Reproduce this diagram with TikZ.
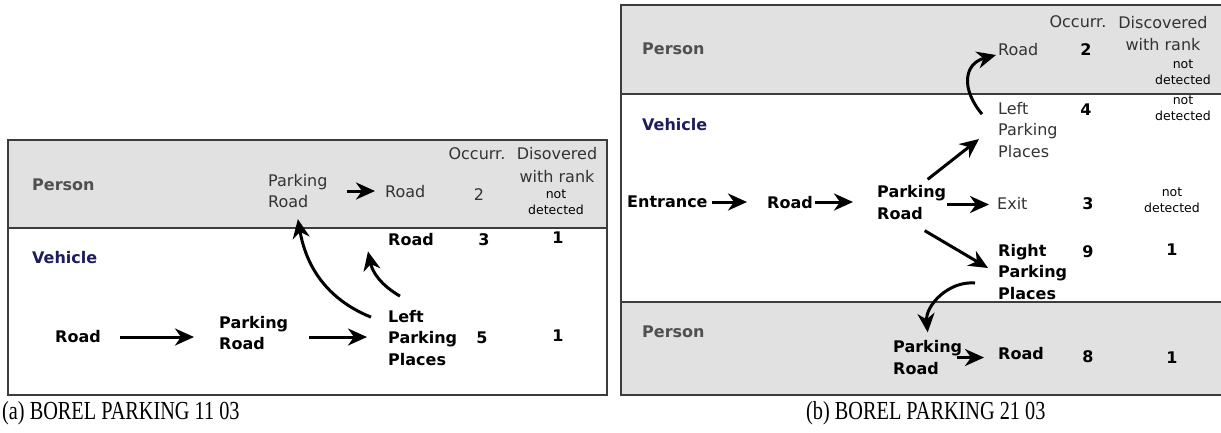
\documentclass[tikz,border=0pt]{standalone}
\usepackage{graphicx}
\usepackage{fontspec}
\setmainfont{DejaVu Sans}
\newfontfamily\capfont{Liberation Serif}
\usetikzlibrary{arrows.meta, positioning}

\definecolor{bandgray}{HTML}{E1E1E1}
\definecolor{framegray}{HTML}{3C3C3C}
\definecolor{lanegray}{HTML}{505050}
\definecolor{vehblue}{HTML}{1C1C5E}
\definecolor{itemgray}{HTML}{333333}

\begin{document}
\begin{tikzpicture}[x=1pt, y=-1pt,
		lane/.style={font=\fontsize{16}{20}\selectfont\bfseries, text=lanegray, anchor=west, inner sep=0pt},
		item/.style={font=\fontsize{16}{21.5}\selectfont, text=itemgray, align=left, anchor=west, inner sep=0pt},
		bitem/.style={item, font=\fontsize{16}{21.5}\selectfont\bfseries, text=black},
		colhead/.style={font=\fontsize{16}{22.5}\selectfont, text=itemgray, align=center, inner sep=0pt},
		nd/.style={font=\fontsize{12.5}{16}\selectfont, text=black, align=center, inner sep=0pt},
		num/.style={font=\fontsize{16}{20}\selectfont\bfseries, inner sep=0pt},
		numl/.style={num, font=\fontsize{16}{20}\selectfont, text=itemgray},
		arr/.style={-{Stealth[length=19pt, width=17pt, inset=6pt]}, line width=3pt},
		rule/.style={draw=framegray, line width=1.6pt},
		subcap/.style={font=\capfont\fontsize{26}{28}\selectfont, anchor=west, inner sep=0pt},
	]
	\useasboundingbox (0,0) rectangle (1221,432);

	% panel (a): bands and frame
	\fill[bandgray] (8,140) rectangle (607,228);
	\draw[rule] (8,228) -- (607,228);
	\draw[rule] (8,140) rectangle (607,395);

	% panel (b): bands and frame
	\fill[bandgray] (621,5) rectangle (1221,94);
	\fill[bandgray] (621,302) rectangle (1221,395);
	\draw[rule] (621,94) -- (1221,94);
	\draw[rule] (621,302) -- (1221,302);
	\draw[rule] (1221,5) -- (621,5) -- (621,395) -- (1221,395);

	% (a) lanes and column heads
	\node[lane] (pa) at (32,185) {Person};
	\node[lane, text=vehblue] (va) at (32,258) {Vehicle};
	\node[colhead] (occa) at (477,154) {Occurr.};
	\node[colhead] (disa) at (557,165) {Disovered\\with rank};

	% (a) person row
	\node[item] (pra) at (268,191) {Parking\\Road};
	\node[item] (ra1) at (385,192) {Road};
	\node[numl] (na1) at (479,195) {2};
	\node[nd] (rka1) at (556,202) {not\\detected};

	% (a) vehicle rows
	\node[bitem] (ra2) at (388,240) {Road};
	\node[num] (na2) at (484,240) {3};
	\node[num] (rka2) at (558,238) {1};
	\node[bitem] (ra0) at (55,337) {Road};
	\node[bitem] (pa0) at (219,333) {Parking\\Road};
	\node[bitem] (lpa) at (388,338) {Left\\Parking\\Places};
	\node[num] (na3) at (482,338) {5};
	\node[num] (rka3) at (558,336) {1};

	% (a) arrows
	\draw[arr] ([xshift=19pt]ra0.east) -- ([xshift=-25pt]ra0.east -| pa0.west);
	\draw[arr] ([xshift=21pt, yshift=-4pt]pa0.east) -- ([xshift=-21pt, yshift=-4pt]pa0.east -| lpa.west);
	\draw[arr] ([xshift=19pt]pra.east) -- ([xshift=-10pt]pra.east -| ra1.west);
	\draw[arr] ([xshift=12pt, yshift=14pt]lpa.north west) to[out=150, in=-78] ([xshift=-20pt, yshift=-5pt]ra2.south west);
	\draw[arr] ([xshift=-17pt, yshift=-7pt]lpa.north west) to[out=158, in=-80] ([yshift=-11pt]pra.south);

	% (b) lanes and column heads
	\node[lane] (pb1) at (642,49) {Person};
	\node[lane, text=vehblue] (vb) at (642,125) {Vehicle};
	\node[lane] (pb2) at (642,332) {Person};
	\node[colhead] (occb) at (1078,22) {Occurr.};
	\node[colhead] (disb) at (1163,33.5) {Discovered\\with rank};

	% (b) person row, top
	\node[item] (rb1) at (998,50) {Road};
	\node[num] (nb1) at (1086,50) {2};
	\node[nd] (rkb1) at (1183,72) {not\\detected};

	% (b) vehicle rows
	\node[item] (lpb) at (998,130) {Left\\Parking\\Places};
	\node[num] (nb2) at (1086,110) {4};
	\node[nd] (rkb2) at (1183,108) {not\\detected};
	\node[bitem] (eb) at (627,202) {Entrance};
	\node[bitem] (rb2) at (767,203) {Road};
	\node[bitem] (prb) at (877,202.5) {Parking\\Road};
	\node[item] (xb) at (997,203) {Exit};
	\node[num] (nb3) at (1088,204) {3};
	\node[nd] (rkb3) at (1172,200) {not\\detected};
	\node[bitem] (rpb) at (998,272) {Right\\Parking\\Places};
	\node[num] (nb4) at (1088,252) {9};
	\node[num] (rkb4) at (1172,250) {1};

	% (b) person row, bottom
	\node[bitem] (prb2) at (893,357.5) {Parking\\Road};
	\node[bitem] (rb3) at (998,354) {Road};
	\node[num] (nb5) at (1088,357) {8};
	\node[num] (rkb5) at (1172,358) {1};

	% (b) arrows
	\draw[arr] ([xshift=4pt]eb.east) -- ([xshift=-20pt]eb.east -| rb2.west);
	\draw[arr] ([xshift=2pt, yshift=1pt]rb2.east) -- ([xshift=-24pt, yshift=1pt]rb2.east -| prb.west);
	\draw[arr] ([xshift=1pt, yshift=-2pt]prb.east) -- ([xshift=-8pt, yshift=-2pt]prb.east -| xb.west);
	\draw[arr] ([xshift=16pt, yshift=6pt]prb.north) -- ([xshift=-19pt, yshift=-9pt]lpb.west);
	\draw[arr] ([xshift=13pt, yshift=-11pt]prb.south) -- ([xshift=-10pt, yshift=4pt]rpb.west);
	\draw[arr] ([xshift=-16pt, yshift=-12pt]lpb.north west) to[out=130, in=195, looseness=1.4] ([xshift=-2pt, yshift=-5pt]rb1.west);
	\draw[arr] ([xshift=-23pt, yshift=-11pt]rpb.west) to[out=175, in=95] ([yshift=8pt]prb2.north);
	\draw[arr] ([xshift=-5pt]prb2.east) -- ([xshift=-14pt]prb2.east -| rb3.west);

	% captions
	\node[subcap] (capa) at (2,413) {\scalebox{0.78}[1]{(a) BOREL PARKING 11 03}};
	\node[subcap] (capb) at (806,413) {\scalebox{0.78}[1]{(b) BOREL PARKING 21 03}};
\end{tikzpicture}
\end{document}
